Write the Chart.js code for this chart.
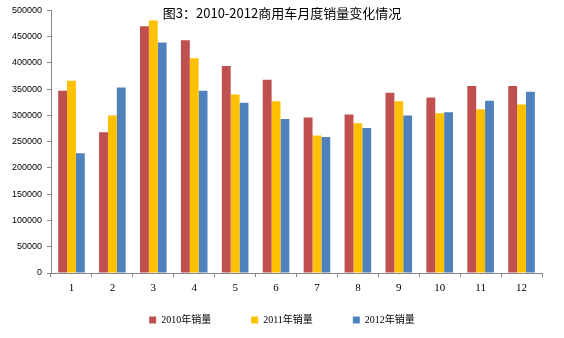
<!DOCTYPE html>
<html>
<head>
<meta charset="utf-8">
<script src="https://cdn.jsdelivr.net/npm/chart.js@4.4.1/dist/chart.umd.min.js"></script>
<style>
  html, body { margin: 0; padding: 0; background: #fff; }
  #box { width: 564px; height: 338px; }
</style>
</head>
<body>
<div id="box"><canvas id="myChart"></canvas></div>
<script>
const months = ['1', '2', '3', '4', '5', '6', '7', '8', '9', '10', '11', '12'];
const sales2010 = [347000, 268000, 470000, 443000, 394000, 368000, 296000, 302000, 343000, 334000, 356000, 356000];
const sales2011 = [366000, 300000, 481000, 409000, 340000, 327000, 262000, 285000, 327000, 304000, 312000, 321000];
const sales2012 = [228000, 353000, 439000, 347000, 324000, 293000, 259000, 276000, 300000, 306000, 328000, 345000];
const seriesNames = ['2010年销量', '2011年销量', '2012年销量'];
const titleText = '图3：2010-2012商用车月度销量变化情况';

const axisGray = '#868686';
const serif = '"Liberation Serif", "Noto Sans CJK SC", serif';

const data = {
  labels: months,
  datasets: [
    { label: seriesNames[0], data: sales2010, backgroundColor: '#C0504D' },
    { label: seriesNames[1], data: sales2011, backgroundColor: '#FFC000' },
    { label: seriesNames[2], data: sales2012, backgroundColor: '#4F81BD' }
  ]
};

const config = {
  type: 'bar',
  data,
  options: {
    animation: false,
    maintainAspectRatio: false,
    categoryPercentage: 0.65,
    barPercentage: 1.0,
    layout: { padding: { left: 0, right: 0, top: 0, bottom: 3 } },
    plugins: {
      title: {
        display: true,
        text: titleText,
        color: '#000',
        font: { family: '"Noto Sans CJK SC", sans-serif', size: 13, weight: 'normal' },
        padding: { top: 4, bottom: -10 }
      },
      legend: {
        position: 'bottom',
        labels: {
          boxWidth: 7,
          boxHeight: 7,
          padding: 10,
          color: '#000',
          font: { family: serif, size: 10 },
          // widen the gap between items without growing the legend height
          generateLabels(chart) {
            const items = Chart.defaults.plugins.legend.labels.generateLabels(chart);
            items.forEach((it, i) => {
              if (i < items.length - 1) it.text = it.text + ' '.repeat(12);
            });
            return items;
          }
        }
      },
      tooltip: { enabled: false }
    },
    scales: {
      x: {
        grid: { drawOnChartArea: false, tickLength: 4, color: axisGray },
        border: { color: axisGray },
        ticks: { color: '#000', padding: 5, font: { family: serif, size: 11 } },
        afterFit(s) { s.height = 32; }
      },
      y: {
        min: 0,
        max: 500000,
        ticks: {
          stepSize: 50000,
          color: '#000',
          padding: 5,
          font: { family: '"Liberation Sans", Arial, sans-serif', size: 9 },
          callback: (v) => String(v)
        },
        grid: { drawOnChartArea: false, tickLength: 4, color: axisGray },
        border: { color: axisGray },
        afterFit(s) { s.width = 51; }
      },
      // empty right-hand space, keeps the legend centred on the whole canvas
      y2: {
        position: 'right',
        display: true,
        grid: { display: false },
        border: { display: false },
        ticks: { display: false },
        afterFit(s) { s.width = 22; }
      }
    }
  }
};

const myChart = new Chart(document.getElementById('myChart'), config);
</script>
</body>
</html>
